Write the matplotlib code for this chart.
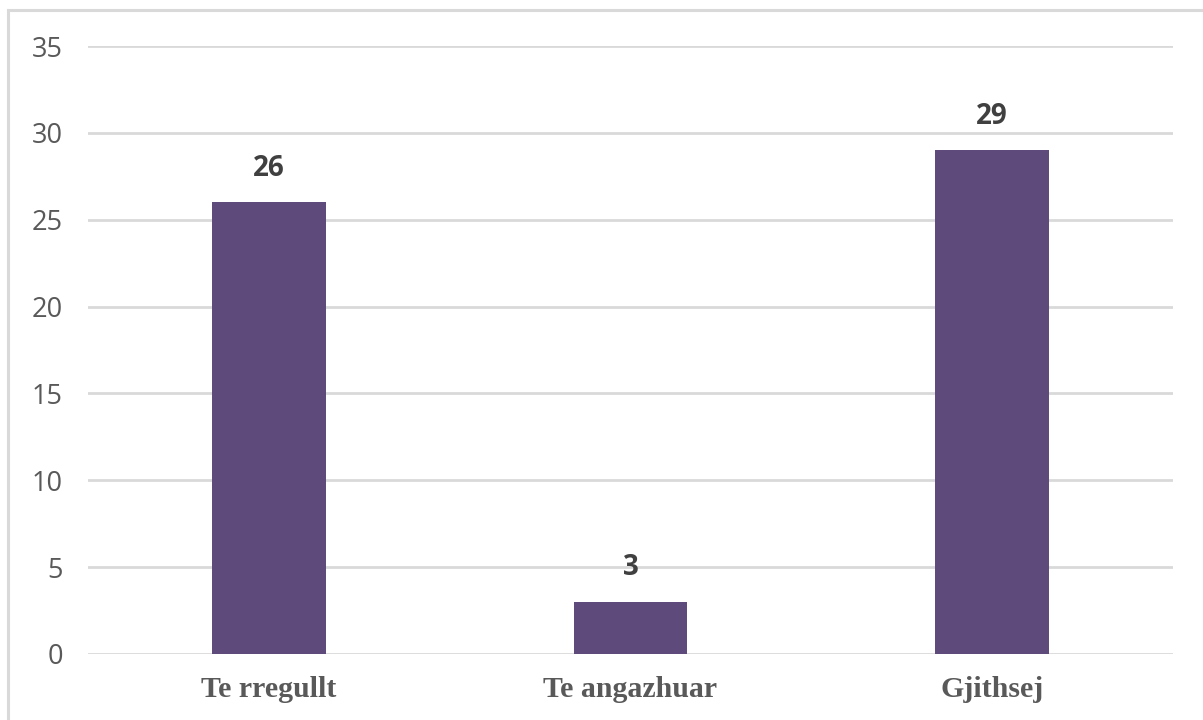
import matplotlib.pyplot as plt
from matplotlib.patches import Rectangle


# ==================================================
# DATA
# ==================================================

categories = ["Te rregullt", "Te angazhuar", "Gjithsej"]
values = [26, 3, 29]
y_ticks = [0, 5, 10, 15, 20, 25, 30, 35]

BAR_COLOR = "#5F4B7B"
GRID_COLOR = "#D9D9D9"
TICK_COLOR = "#595959"
LABEL_COLOR = "#404040"


# ==================================================
# FIGURE
# ==================================================

fig = plt.figure(figsize=(12.03, 7.2), dpi=100)

# light frame round the chart area (only left / top visible)
fig.patches.append(
    Rectangle(
        (8 / 1203, -0.05),
        1.2,
        1.05 - 10 / 720,
        transform=fig.transFigure,
        fill=False,
        edgecolor=GRID_COLOR,
        linewidth=2.2
    )
)

ax = fig.add_axes([0.0732, 0.0917, 0.9018, 0.8443])

x = range(len(categories))

ax.bar(
    x,
    values,
    width=0.315,
    color=BAR_COLOR,
    zorder=3
)

for xi, v in zip(x, values):
    ax.annotate(
        f"{v}",
        xy=(xi, v),
        xytext=(0, 24.5),
        textcoords="offset points",
        ha="center",
        va="center",
        fontsize=20,
        fontweight="bold",
        family="Open Sans",
        color=LABEL_COLOR
    )

ax.set_xlim(-0.5, len(categories) - 0.5)
ax.set_ylim(0, 35)
ax.set_yticks(y_ticks)

ax.yaxis.grid(True, color=GRID_COLOR, linewidth=2, zorder=0)
ax.set_axisbelow(True)

for side in ["top", "right", "left", "bottom"]:
    ax.spines[side].set_visible(False)

ax.tick_params(axis="both", length=0)
ax.tick_params(axis="y", pad=18, labelsize=19.5, labelcolor=TICK_COLOR)
ax.tick_params(axis="x", pad=15.5)

for lbl in ax.get_yticklabels():
    lbl.set_family("Open Sans")

ax.set_xticks(list(x))
ax.set_xticklabels(
    categories,
    family="Liberation Serif",
    fontweight="bold",
    fontsize=21.5,
    color=TICK_COLOR
)

plt.savefig("out.png", dpi=100)
plt.close()
